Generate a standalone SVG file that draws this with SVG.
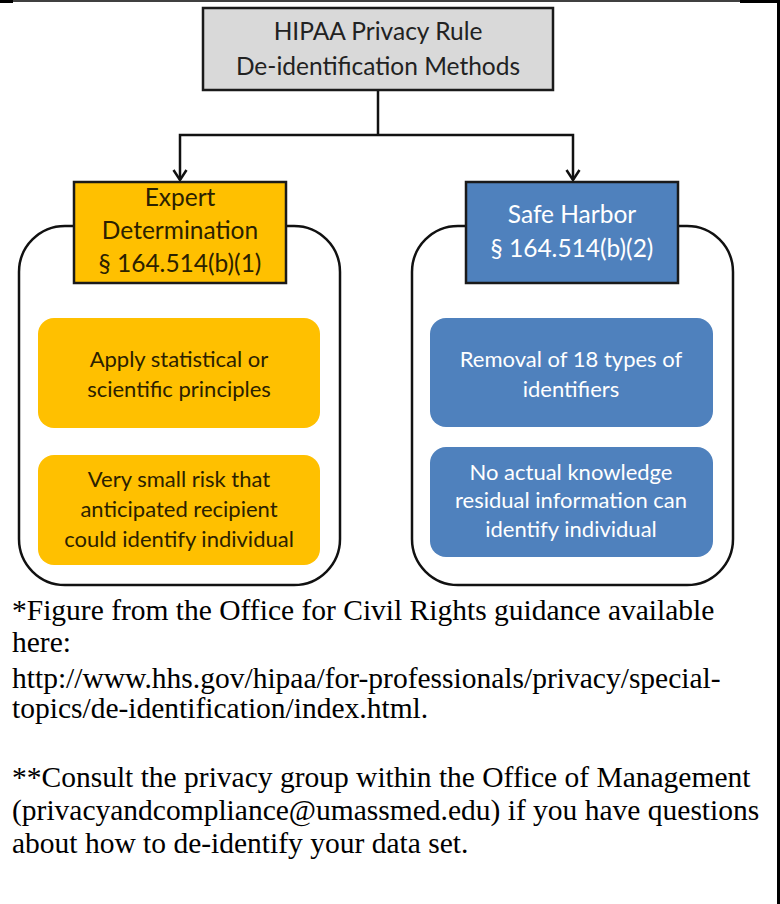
<svg xmlns="http://www.w3.org/2000/svg" width="780" height="904" viewBox="0 0 780 904">
  <defs>
    <style>
      .frame { stroke: #000; fill: none; }
      .head { stroke: #1a1a1a; stroke-width: 2.5; }
      .panel { fill: #fff; stroke: #111; stroke-width: 2.5; }
      .conn { stroke: #111; stroke-width: 2.5; fill: none; }
      .lbl { font-family: Lato, "Open Sans", "Liberation Sans", sans-serif; text-anchor: middle; }
      .hd { font-size: 24.5px; }
      .bd { font-size: 22px; }
      .dark { fill: #2b2100; }
      .light { fill: #ffffff; }
      .note { font-family: "Liberation Serif", "Times New Roman", serif; font-size: 29.5px; fill: #000; }
    </style>
    <!-- open chevron arrowhead, drawn along +x -->
    <marker id="arrow" viewBox="0 0 14 16" refX="12" refY="8" markerWidth="14" markerHeight="16" markerUnits="userSpaceOnUse" orient="auto">
      <path d="M2,1.5 L12,8 L2,14.5" fill="none" stroke="#111" stroke-width="2.5"/>
    </marker>
  </defs>

  <rect width="780" height="904" fill="#fff"/>

  <!-- page frame -->
  <g id="frame">
    <line class="frame" x1="0" y1="1" x2="740" y2="1" stroke-width="1.5"/>
    <line class="frame" x1="0" y1="1.5" x2="13" y2="1.5" stroke-width="3"/>
    <line class="frame" x1="740" y1="1.5" x2="780" y2="1.5" stroke-width="3"/>
    <line class="frame" x1="778.5" y1="0" x2="778.5" y2="904" stroke-width="3"/>
  </g>

  <!-- method containers (behind the headers) -->
  <g id="expert-panel">
    <rect class="panel" x="19" y="226" width="321" height="359" rx="46" ry="46"/>
  </g>
  <g id="safe-panel">
    <rect class="panel" x="412" y="226" width="321" height="359" rx="46" ry="46"/>
  </g>

  <!-- connectors -->
  <g id="connectors">
    <polyline class="conn" points="378,90 378,135"/>
    <polyline class="conn" points="378,135 180,135 180,180" marker-end="url(#arrow)"/>
    <polyline class="conn" points="378,135 573,135 573,180" marker-end="url(#arrow)"/>
  </g>

  <g id="root">
    <rect class="head" x="203" y="8" width="350" height="82" fill="#d9d9d9"/>
    <text class="lbl hd" x="378" y="40" fill="#222">HIPAA Privacy Rule</text>
    <text class="lbl hd" x="378" y="75" fill="#222">De-identification Methods</text>
  </g>

  <g id="expert">
    <rect class="head" x="74" y="182" width="212" height="101" fill="#ffc000"/>
    <text class="lbl hd dark" x="180" y="206">Expert</text>
    <text class="lbl hd dark" x="180" y="239">Determination</text>
    <text class="lbl hd dark" x="180" y="272">§ 164.514(b)(1)</text>
  </g>

  <g id="safe-harbor">
    <rect class="head" x="466" y="182" width="212" height="101" fill="#4f81bd"/>
    <text class="lbl hd light" x="572" y="223">Safe Harbor</text>
    <text class="lbl hd light" x="572" y="257">§ 164.514(b)(2)</text>
  </g>

  <g id="expert-principles">
    <rect x="38" y="318" width="282" height="110" rx="16" ry="16" fill="#ffc000"/>
    <text class="lbl bd dark" x="179" y="367">Apply statistical or</text>
    <text class="lbl bd dark" x="179" y="397">scientific principles</text>
  </g>

  <g id="expert-risk">
    <rect x="38" y="455" width="282" height="110" rx="16" ry="16" fill="#ffc000"/>
    <text class="lbl bd dark" x="179" y="487">Very small risk that</text>
    <text class="lbl bd dark" x="179" y="517">anticipated recipient</text>
    <text class="lbl bd dark" x="179" y="547">could identify individual</text>
  </g>

  <g id="safe-identifiers">
    <rect x="430" y="318" width="283" height="109" rx="16" ry="16" fill="#4f81bd"/>
    <text class="lbl bd light" x="571" y="367">Removal of 18 types of</text>
    <text class="lbl bd light" x="571" y="397">identifiers</text>
  </g>

  <g id="safe-knowledge">
    <rect x="430" y="447" width="283" height="110" rx="16" ry="16" fill="#4f81bd"/>
    <text class="lbl bd light" x="571" y="480">No actual knowledge</text>
    <text class="lbl bd light" x="571" y="508">residual information can</text>
    <text class="lbl bd light" x="571" y="537">identify individual</text>
  </g>

  <!-- footnotes -->
  <g id="notes">
    <text class="note" x="12" y="620">*Figure from the Office for Civil Rights guidance available</text>
    <text class="note" x="12" y="652">here:</text>
    <text class="note" x="12" y="688">http://www.hhs.gov/hipaa/for-professionals/privacy/special-</text>
    <text class="note" x="12" y="718">topics/de-identification/index.html.</text>
    <text class="note" x="12" y="787">**Consult the privacy group within the Office of Management</text>
    <text class="note" x="12" y="820">(privacyandcompliance@umassmed.edu) if you have questions</text>
    <text class="note" x="12" y="853">about how to de-identify your data set.</text>
  </g>
</svg>
